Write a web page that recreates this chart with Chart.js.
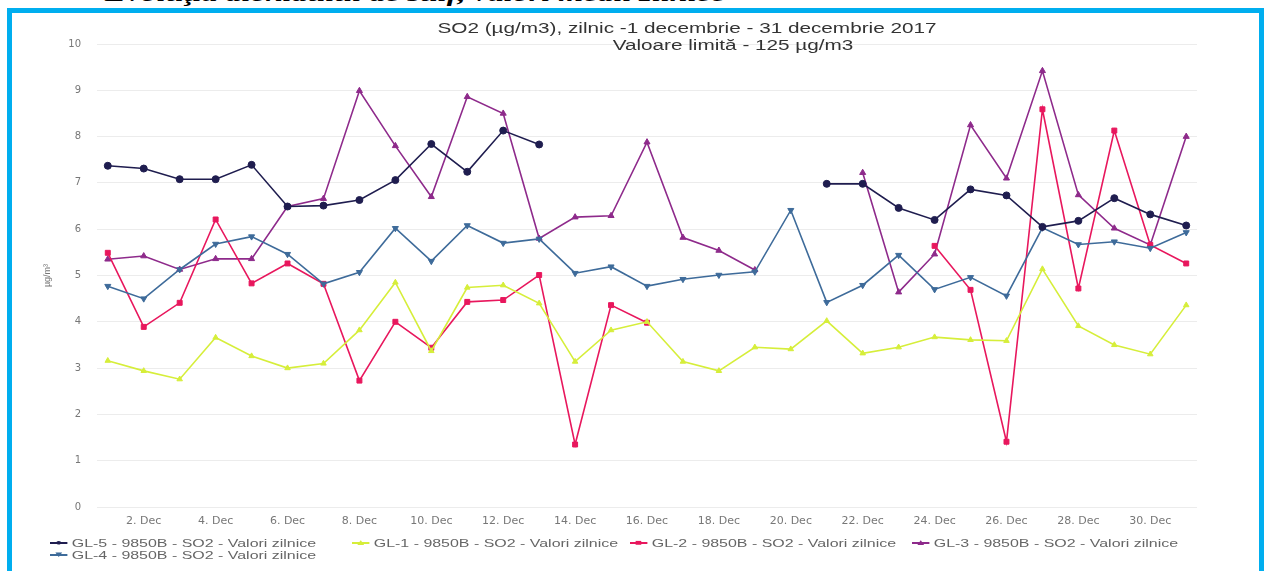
<!DOCTYPE html>
<html>
<head>
<meta charset="utf-8">
<script src="https://cdn.jsdelivr.net/npm/chart.js@4.4.1/dist/chart.umd.min.js"></script>
<style>
	html, body { margin: 0; padding: 0; background: #fff; overflow: hidden; }
	#wrap { position: relative; width: 1264px; height: 571px; overflow: hidden; }
	#heading { position: absolute; left: 105px; top: -19px; font: italic bold 22px "Liberation Serif", serif; color: #000; white-space: nowrap; transform: scaleX(1.46); transform-origin: left top; }
	#frame { position: absolute; left: 7px; top: 8px; width: 1257px; height: 620px; border: 5px solid #00aeef; box-sizing: border-box; }
	#so2_chart { position: absolute; left: 0; top: 0; }
	.title { position: absolute; font: 14px "Liberation Sans", Arial, sans-serif; color: #333; white-space: nowrap; transform: translateX(-50%) scaleX(1.48); }
	.legend-item { position: absolute; font: 11px "Liberation Sans", Arial, sans-serif; color: #666; white-space: nowrap; display: flex; align-items: center; transform: scaleX(1.45); transform-origin: left center; }
	.legend-icon { position: relative; width: 12px; height: 10px; margin-right: 3px; }
	.legend-icon .ln { position: absolute; left: 0; right: 0; top: 4px; height: 2px; }
	.legend-icon .mk { position: absolute; left: 2px; top: 1px; width: 8px; height: 8px; }
</style>
</head>
<body>
<div id="wrap">
	<div id="heading">Evoluţia dioxidului de sulf, valori medii zilnice</div>
	<div id="frame"></div>
	<canvas id="so2_chart" width="1264" height="571"></canvas>
	<div class="title" style="left:687px; top:20px">SO2 (µg/m3), zilnic -1 decembrie - 31 decembrie 2017</div>
	<div class="title" style="left:733px; top:37px">Valoare limită - 125 µg/m3</div>
	<div id="status_legend"></div>
</div>
<script>
var days = ['1. Dec', '2. Dec', '3. Dec', '4. Dec', '5. Dec', '6. Dec', '7. Dec', '8. Dec', '9. Dec', '10. Dec',
		'11. Dec', '12. Dec', '13. Dec', '14. Dec', '15. Dec', '16. Dec', '17. Dec', '18. Dec', '19. Dec', '20. Dec',
		'21. Dec', '22. Dec', '23. Dec', '24. Dec', '25. Dec', '26. Dec', '27. Dec', '28. Dec', '29. Dec', '30. Dec', '31. Dec'],
	labels = ['GL-5 - 9850B - SO2 - Valori zilnice', 'GL-4 - 9850B - SO2 - Valori zilnice', 'GL-1 - 9850B - SO2 - Valori zilnice',
		'GL-2 - 9850B - SO2 - Valori zilnice', 'GL-3 - 9850B - SO2 - Valori zilnice'],
	colors = ['#1f1d4f', '#3e6b9a', '#d6ee3a', '#e8175d', '#8e2a8b'],
	gl5 = [7.37, 7.31, 7.08, 7.08, 7.39, 6.49, 6.51, 6.63, 7.06, 7.84, 7.24, 8.13, 7.83, null, null, null, null, null, null, null,
		6.98, 6.98, 6.46, 6.20, 6.86, 6.73, 6.05, 6.18, 6.67, 6.32, 6.08],
	gl4 = [4.77, 4.50, 5.13, 5.68, 5.84, 5.46, 4.82, 5.07, 6.02, 5.31, 6.08, 5.70, 5.79, 5.05, 5.19, 4.77, 4.92, 5.01, 5.08, 6.41,
		4.42, 4.79, 5.44, 4.70, 4.96, 4.56, 6.03, 5.67, 5.73, 5.59, 5.93],
	gl1 = [3.16, 2.94, 2.76, 3.66, 3.26, 3.00, 3.10, 3.82, 4.85, 3.37, 4.74, 4.79, 4.40, 3.14, 3.82, 4.00, 3.14, 2.94, 3.45, 3.41,
		4.02, 3.32, 3.45, 3.67, 3.61, 3.59, 5.14, 3.91, 3.50, 3.30, 4.36],
	gl2 = [5.49, 3.89, 4.41, 6.21, 4.83, 5.26, 4.82, 2.73, 4.00, 3.44, 4.43, 4.47, 5.01, 1.35, 4.36, 3.98, null, null, null, null,
		null, null, null, 5.64, 4.69, 1.41, 8.59, 4.72, 8.13, 5.66, 5.26],
	gl3 = [5.35, 5.42, 5.13, 5.36, 5.36, 6.49, 6.66, 8.99, 7.80, 6.70, 8.86, 8.50, 5.80, 6.26, 6.29, 7.88, 5.82, 5.54, 5.12, null,
		null, 7.22, 4.64, 5.46, 8.25, 7.10, 9.42, 6.74, 6.02, 5.66, 8.00],
	yTicks = [0, 1, 2, 3, 4, 5, 6, 7, 8, 9, 10],
	series = [gl5, gl4, gl1, gl2, gl3],
	pointStyles = ['circle', 'triangle', 'triangle', 'rect', 'triangle'],
	rotations = [0, 180, 0, 0, 0],
	glyphs = ['●', '▼', '▲', '■', '▲'],
	legendPos = [[50, 537], [50, 549], [352, 537], [630, 537], [912, 537]];

var datasets = series.map(function(values, i) {
	return {
		label: labels[i],
		data: values.map(function(v, d) { return { x: d + 1, y: v }; }),
		borderColor: colors[i],
		backgroundColor: colors[i],
		borderWidth: 1.6,
		pointStyle: pointStyles[i],
		pointRotation: rotations[i],
		pointRadius: i === 2 ? 3.2 : 3.5,
		pointBorderWidth: 1,
		spanGaps: false,
		tension: 0
	};
});

// legend as html, same spots as the original
var text = [];
for (let i = 0; i < labels.length; ++i) {
	text.push(`<div class="legend-item" style="left:${legendPos[i][0]}px; top:${legendPos[i][1]}px">
		<span class="legend-icon"><span class="ln" style="background:${colors[i]}"></span>
		<span class="mk" style="color:${colors[i]}; font-size:8px; line-height:8px; text-align:center">${glyphs[i]}</span></span>
		<span>${labels[i]}</span></div>`);
}
document.getElementById('status_legend').innerHTML = text.join('');

var config = {
	type: 'line',
	data: { datasets: datasets },
	options: {
		responsive: false,
		animation: false,
		layout: { padding: { left: 38, right: 67, top: 44, bottom: 34 } },
		plugins: {
			legend: { display: false },
			title: { display: false },
			tooltip: { enabled: false }
		},
		scales: {
			x: {
				type: 'linear',
				min: 0.7,
				max: 31.3,
				grid: { display: false, drawTicks: false },
				border: { display: false },
				afterBuildTicks: function(scale) {
					scale.ticks = days.map(function(d, i) { return { value: i + 1 }; })
						.filter(function(t) { return t.value % 2 === 0; });
				},
				afterFit: function(scale) { scale.height = 30; },
				ticks: {
					autoSkip: false,
					maxRotation: 0,
					padding: 8,
					color: '#777',
					font: { family: 'DejaVu Sans', size: 11 },
					callback: function(value) { return days[value - 1]; }
				}
			},
			y: {
				min: 0,
				max: 10,
				afterBuildTicks: function(scale) {
					scale.ticks = yTicks.map(function(v) { return { value: v }; });
				},
				afterFit: function(scale) { scale.width = 59; },
				grid: { color: '#ececec', drawTicks: false },
				border: { display: false },
				ticks: {
					padding: 16,
					color: '#777',
					font: { family: 'DejaVu Sans', size: 10 }
				},
				title: {
					display: true,
					text: 'µg/m³',
					color: '#777',
					font: { family: 'Liberation Sans', size: 9 }
				}
			}
		}
	}
};

new Chart(document.getElementById('so2_chart').getContext('2d'), config);
</script>
</body>
</html>
